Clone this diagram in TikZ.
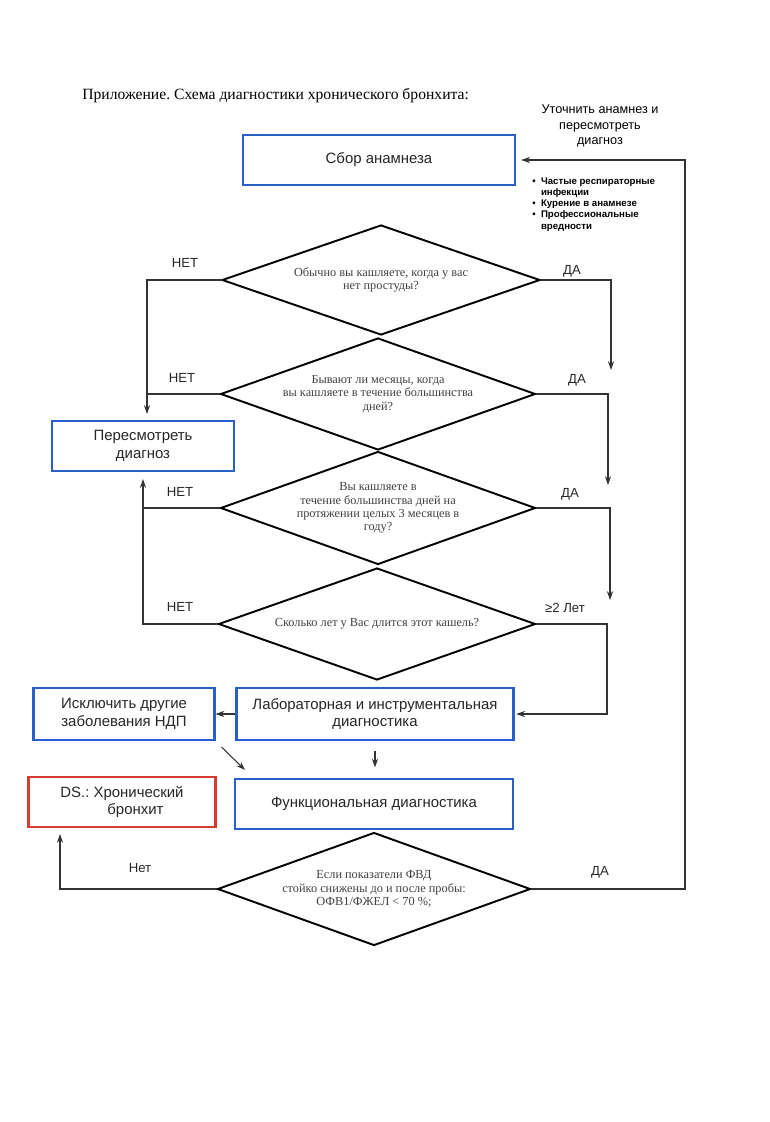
\documentclass[tikz,border=0pt]{standalone}
\usepackage{fontspec}
\setmainfont{Liberation Serif}
\setsansfont{Liberation Sans}
\usetikzlibrary{shapes.geometric,arrows.meta}

\definecolor{boxblue}{RGB}{40,95,200}
\definecolor{boxred}{RGB}{215,60,50}
\frenchspacing

\begin{document}
\begin{tikzpicture}[x=0.02cm, y=-0.02cm, >={Stealth[length=5pt,width=3.5pt]},
    box/.style={draw=boxblue, line width=1.2pt, align=center, inner sep=2pt,
      font=\sffamily\fontsize{8.5}{10}\selectfont, text=black!85},
    question/.style={diamond, draw, line width=1.1pt, inner sep=0pt, aspect=2.85,
      align=center, font=\fontsize{7}{7.6}\selectfont, text=black!75},
    answer/.style={font=\sffamily\fontsize{7.5}{9}\selectfont, text=black!85},
    link/.style={->, line width=0.6pt, draw=black!80}]
    \useasboundingbox (0,0) rectangle (770,1122);

    % Title and notes
    \node[anchor=west, inner sep=0pt, font=\fontsize{8.9}{11}\selectfont] (title) at (82,96)
        {Приложение. Схема диагностики хронического бронхита:};
    \node[align=center, font=\sffamily\fontsize{7.2}{9}\selectfont] (recheck) at (600,126)
        {Уточнить анамнез и\\пересмотреть\\диагноз};
    \node[anchor=north west, inner sep=0pt, font=\sffamily\bfseries\fontsize{5.5}{6.4}\selectfont] (risks) at (532,176)
        {\begin{tabular}{@{}l@{\hspace{3pt}}l@{}}
            •&Частые респираторные\\&инфекции\\
            •&Курение в анамнезе\\
            •&Профессиональные\\&вредности
        \end{tabular}};

    % Boxes
    \node[box, minimum width=5.44cm, minimum height=1cm] (anam) at (379,160) {Сбор анамнеза};
    \node[box, minimum width=3.64cm, minimum height=1cm] (rev) at (143,446) {Пересмотреть\\диагноз};
    \node[box, minimum width=5.54cm, minimum height=1.04cm] (lab) at (375,714)
        {Лабораторная и инструментальная\\диагностика};
    \node[box, minimum width=3.62cm, minimum height=1.04cm] (excl) at (124,714)
        {Исключить другие\\заболевания НДП};
    \node[box, draw=boxred, minimum width=3.74cm, minimum height=1cm] (ds) at (122,802)
        {DS.: Хронический\\\hspace*{1.8em}бронхит};
    \node[box, minimum width=5.56cm, minimum height=1cm] (func) at (374,804) {Функциональная диагностика};

    % Questions
    \node[question, minimum width=6.36cm, minimum height=2.2cm] (d1) at (381,280)
        {Обычно вы кашляете, когда у вас\\нет простуды?};
    \node[question, minimum width=6.3cm, minimum height=2.24cm] (d2) at (378,394)
        {Бывают ли месяцы, когда\\вы кашляете в течение большинства\\дней?};
    \node[question, minimum width=6.3cm, minimum height=2.26cm] (d3) at (378,508)
        {Вы кашляете в\\течение большинства дней на\\протяжении целых 3 месяцев в\\году?};
    \node[question, minimum width=6.34cm, minimum height=2.24cm] (d4) at (377,624)
        {Сколько лет у Вас длится этот кашель?};
    \node[question, minimum width=6.26cm, minimum height=2.26cm] (d5) at (374,889)
        {Если показатели ФВД\\стойко снижены до и после пробы:\\ОФВ1/ФЖЕЛ < 70 \%;};

    % Answer labels
    \node[answer] (no1) at (185,263) {НЕТ};
    \node[answer] (no2) at (182,378) {НЕТ};
    \node[answer] (no3) at (180,492) {НЕТ};
    \node[answer] (no4) at (180,607) {НЕТ};
    \node[answer] (no5) at (140,868) {Нет};
    \node[answer] (yes1) at (572,271) {ДА};
    \node[answer] (yes2) at (577,380) {ДА};
    \node[answer] (yes3) at (570,494) {ДА};
    \node[answer] (yes4) at (565,608) {≥2 Лет};
    \node[answer] (yes5) at (600,872) {ДА};

    % Bus lines
    \coordinate (leftbus) at (147,0);
    \coordinate (leftbus2) at (143,0);
    \coordinate (rightbus) at (685,0);
    \coordinate (labbus) at (607,0);
    \coordinate (dsbus) at (60,0);
    \coordinate (y1) at (611,370);
    \coordinate (y2) at (608,485);
    \coordinate (y3) at (610,600);

    % Connectors
    \draw[link, shorten >=3.4pt] (d1.west) -| (leftbus |- rev.north);
    \draw[link, -] (d2.west) -- (d2.west -| leftbus);
    \draw[link, shorten >=4pt] (d4.west) -| (leftbus2 |- rev.south);
    \draw[link, -] (d3.west) -- (d3.west -| leftbus2);
    \draw[link] (d1.east) -| (y1);
    \draw[link] (d2.east) -| (y2);
    \draw[link] (d3.east) -| (y3);
    \draw[link, shorten >=1pt] (d4.east) -| (labbus |- lab.east) -- (lab.east);
    \draw[link] (lab.west) -- (excl.east);
    \draw[link] ([shift={(6,6)}]excl.south east) -- ([shift={(11,-8)}]func.north west);
    \draw[link, shorten <=5.5pt, shorten >=6pt] (lab.south) -- (lab.south |- func.north);
    \draw[link, shorten >=3.4pt] (d5.west) -| (dsbus |- ds.south);
    \draw[link, shorten >=3pt] (d5.east) -| (rightbus |- anam.east) -- (anam.east);
\end{tikzpicture}
\end{document}
